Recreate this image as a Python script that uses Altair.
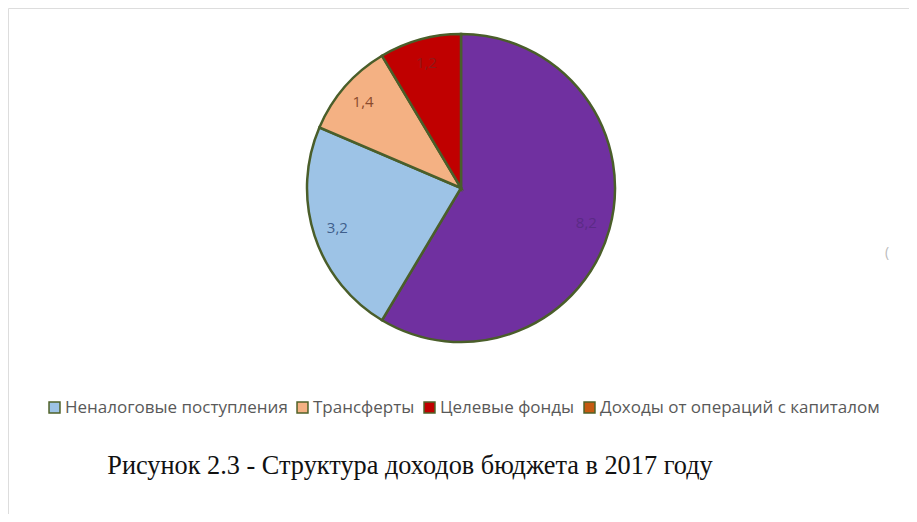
import altair as alt
import pandas as pd

categories = ["Налоговые поступления", "Неналоговые поступления", "Трансферты",
              "Целевые фонды", "Доходы от операций с капиталом"]
values = [8.2, 3.2, 1.4, 1.2, 0.0]
labels = ["8,2", "3,2", "1,4", "1,2", ""]
slice_colors = ["#7030A0", "#9DC3E6", "#F4B183", "#C00000", "#C55A11"]
label_colors = ["#5B2B86", "#3F5F8C", "#8A4A2C", "#8E1A1A", "#7A3A10"]
legend_items = categories[1:]
caption = "Рисунок 2.3 - Структура доходов бюджета в 2017 году"

df = pd.DataFrame({
    "cat": categories,
    "value": values,
    "label": labels,
    "lc": label_colors,
    "ord": list(range(len(categories))),
})
df_pie = df[df["value"] > 0]

CX, CY, R = 453, 180, 154

color = alt.Color(
    "cat:N",
    scale=alt.Scale(domain=categories, range=slice_colors),
    legend=alt.Legend(
        values=legend_items, orient="none", direction="horizontal",
        legendX=38, legendY=391, title=None,
        symbolType="square", symbolSize=120, symbolStrokeColor="#4F6228",
        symbolStrokeWidth=1.5, symbolOpacity=1,
        labelFont="Open Sans", labelFontSize=17, labelColor="#595959",
        labelOffset=2, columnPadding=6, symbolOffset=0, labelLimit=500,
    ),
)

base = alt.Chart(df_pie).encode(
    theta=alt.Theta("value:Q", stack=True),
    order=alt.Order("ord:Q"),
)

pie = base.mark_arc(stroke="#4A5E2A", strokeWidth=2.5).encode(
    color=color,
    x=alt.value(CX), y=alt.value(CY), radius=alt.value(R),
)

text = base.mark_text(font="Open Sans", fontSize=15).encode(
    text="label:N",
    color=alt.Color("lc:N", scale=None),
    x=alt.value(CX), y=alt.value(CY), radius=alt.value(130),
)

cap_df = pd.DataFrame({"t": [caption]})
cap = alt.Chart(cap_df).mark_text(
    font="Liberation Serif", fontSize=26.3, color="#111111", align="center", baseline="alphabetic"
).encode(text="t:N", x=alt.value(402), y=alt.value(466))

stray_df = pd.DataFrame({"t": ["("]})
stray = alt.Chart(stray_df).mark_text(
    font="Open Sans", fontSize=14, color="#BBBBBB", align="left"
).encode(text="t:N", x=alt.value(877), y=alt.value(245))

chart = alt.layer(pie, text, cap, stray).properties(
    width=901, height=506, autosize=alt.AutoSizeParams(type="none"), padding=0
).configure_view(strokeWidth=0).configure(background="white")

chart.save("out.html", embed_options={"renderer": "svg", "actions": False})
